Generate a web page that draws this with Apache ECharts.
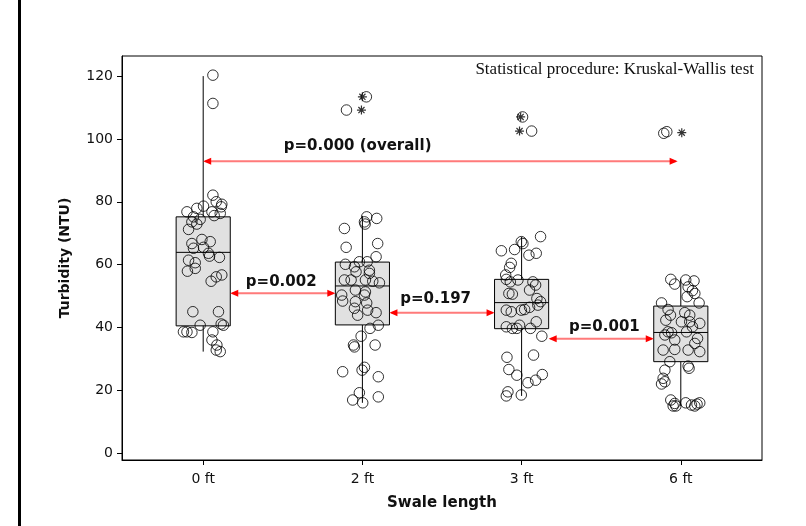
<!DOCTYPE html>
<html>
<head>
<meta charset="utf-8">
<script src="https://cdn.jsdelivr.net/npm/echarts@6/dist/echarts.min.js"></script>
<style>html,body{margin:0;padding:0;background:#fff;}#chart{width:806px;height:526px;}</style>
</head>
<body>
<div id="chart"></div>
<script>
// ---------- DATA ----------
const categories = ['0 ft', '2 ft', '3 ft', '6 ft'];
const yTicks = [0, 20, 40, 60, 80, 100, 120];

// box statistics per category
const whiskerLow  = [32.3, 16.0, 18.2, 15.0];
const q1Values    = [40.5, 40.8, 39.6, 29.1];
const medians     = [63.9, 53.2, 47.9, 38.4];
const q3Values    = [75.2, 60.8, 55.3, 46.8];
const whiskerHigh = [120.0, 75.5, 68.8, 55.3];

// individual observations: [jitter (category units), turbidity]
const points0ft = [[0.061,120.3],[0.061,111.3],[0.061,82.1],[0.117,79.2],[0.082,80.0],[-0.102,76.8],[-0.040,77.9],[0.002,78.6],[-0.061,75.2],[-0.019,74.4],[0.055,76.8],[0.107,76.3],[-0.071,73.6],[-0.040,72.9],[-0.092,71.2],[-0.008,68.0],[-0.071,66.7],[0.044,67.3],[-0.061,65.2],[0.002,65.5],[0.033,63.6],[0.040,62.7],[0.102,62.3],[-0.092,61.4],[-0.050,60.6],[-0.050,58.8],[-0.099,57.9],[0.117,56.7],[0.082,56.1],[0.050,54.7],[-0.065,45.0],[0.096,45.0],[-0.019,40.7],[0.127,40.7],[-0.102,38.6],[-0.071,38.4],[-0.124,38.6],[0.113,41.1],[0.061,38.6],[0.055,36.0],[0.086,34.4],[0.082,32.8],[0.107,32.3],[0.113,78.4],[0.069,75.6]];
const points2ft = [[0.027,75.2],[0.090,74.7],[0.013,73.6],[0.017,72.9],[-0.113,71.5],[0.096,66.7],[-0.102,65.5],[0.086,62.5],[-0.107,60.1],[-0.019,60.9],[0.030,60.9],[-0.050,59.3],[0.044,58.2],[-0.040,57.7],[0.044,57.2],[-0.071,55.1],[-0.113,55.1],[0.019,55.1],[0.065,54.7],[0.107,54.2],[-0.044,51.9],[0.019,51.3],[-0.130,50.3],[0.013,50.3],[-0.124,48.4],[-0.044,48.2],[0.027,47.8],[-0.050,46.1],[0.033,45.5],[0.086,44.7],[-0.030,43.9],[0.100,40.7],[0.048,39.7],[-0.008,37.2],[0.080,34.4],[-0.056,34.4],[-0.050,33.8],[-0.124,25.9],[0.013,27.3],[-0.002,26.4],[0.100,24.3],[-0.019,19.2],[0.100,17.9],[-0.061,16.9],[0.002,16.0]];
const points3ft = [[0.119,68.9],[-0.002,67.3],[0.008,66.7],[-0.127,64.4],[-0.044,64.8],[0.046,63.0],[0.092,63.6],[-0.065,60.4],[-0.075,59.1],[-0.100,56.7],[-0.096,55.3],[-0.071,54.5],[-0.023,55.1],[0.071,54.5],[0.088,53.5],[0.050,51.9],[-0.080,50.8],[-0.058,50.6],[0.096,49.2],[0.119,48.2],[0.102,47.1],[0.050,46.4],[0.019,45.7],[-0.096,45.5],[-0.065,45.0],[-0.002,45.5],[0.092,41.8],[-0.013,40.7],[-0.096,40.2],[-0.058,39.7],[-0.030,39.7],[0.056,39.7],[0.127,37.2],[-0.092,30.5],[0.075,31.2],[-0.080,26.6],[-0.030,24.8],[0.130,25.0],[0.088,23.2],[0.040,22.4],[-0.086,19.5],[-0.096,18.2],[-0.002,18.5]];
const points6ft = [[-0.063,55.3],[0.031,55.1],[0.083,54.8],[-0.038,53.8],[0.046,52.9],[0.073,51.7],[0.088,50.8],[0.040,49.8],[0.115,47.8],[-0.121,47.8],[-0.080,45.7],[-0.065,43.9],[0.025,44.7],[0.056,43.9],[-0.094,42.3],[0.004,41.8],[0.056,41.8],[0.119,41.3],[0.073,40.2],[-0.080,38.6],[-0.058,38.3],[-0.100,37.6],[0.036,38.6],[0.105,36.5],[-0.038,36.0],[0.088,34.9],[-0.111,32.8],[-0.038,33.0],[0.046,32.8],[0.119,32.3],[-0.069,29.1],[0.046,27.7],[0.052,27.0],[-0.100,26.4],[-0.111,23.8],[-0.100,22.7],[-0.121,22.0],[-0.063,16.9],[-0.038,15.8],[-0.031,15.0],[0.031,16.0],[0.067,15.3],[0.102,15.6],[0.119,16.0],[0.088,15.0],[-0.048,15.0]];
const pointGroups = [points0ft, points2ft, points3ft, points6ft];

// outliers drawn as circles (observations) and asterisks (outlier marks)
const outlierCircles = [[], [[-0.100,109.2],[0.025,113.4]], [[0.006,107.0],[0.063,102.5]], [[-0.107,101.8],[-0.088,102.3]]];
const outlierStars   = [[], [[-0.006,109.2],[0.000,113.4]], [[-0.006,107.0],[-0.013,102.5]], [[0.006,102.0]]];

// pairwise comparisons
const compLabels = ['p=0.002', 'p=0.197', 'p=0.001', 'p=0.000 (overall)'];
const compFrom   = [0.17, 1.17, 2.17, 0.0];
const compTo     = [0.83, 1.83, 2.83, 2.98];
const compY      = [50.9, 44.7, 36.4, 92.9];
const compTextX  = [0.49, 1.46, 2.52, 0.97];
const compTextY  = [54.5, 48.9, 40.2, 97.7];

const noteText = 'Statistical procedure: Kruskal-Wallis test';

// ---------- BUILD ----------
const boxData = categories.map((c, i) => [i, whiskerLow[i], q1Values[i], medians[i], q3Values[i], whiskerHigh[i]]);
const scatterData = [];
pointGroups.forEach((g, i) => g.forEach(p => scatterData.push([i + p[0], p[1]])));
outlierCircles.forEach((g, i) => g.forEach(p => scatterData.push([i + p[0], p[1]])));
const starData = [];
outlierStars.forEach((g, i) => g.forEach(p => starData.push([i + p[0], p[1]])));
const compData = compLabels.map((l, i) => ({ name: l, value: [compFrom[i], compTo[i], compY[i], compTextX[i], compTextY[i]] }));

const BOX_HW = 0.17;
const FONT = 'DejaVu Sans';

const chart = echarts.init(document.getElementById('chart'), null, { renderer: 'canvas' });
chart.setOption({
  animation: false,
  backgroundColor: '#fff',
  grid: { left: 122, top: 56, right: 44, bottom: 66, show: true, borderColor: '#000', borderWidth: 1, backgroundColor: 'transparent' },
  xAxis: {
    type: 'value', min: -0.51, max: 3.51,
    name: 'Swale length', nameLocation: 'middle', nameGap: 36,
    nameTextStyle: { fontFamily: FONT, fontWeight: 'bold', fontSize: 15, color: '#111' },
    axisLine: { show: true, onZero: false, lineStyle: { color: '#000', width: 1 } },
    axisTick: { show: true, length: 5, lineStyle: { color: '#000' }, customValues: [0, 1, 2, 3] },
    axisLabel: { customValues: [0, 1, 2, 3], formatter: v => categories[Math.round(v)], fontFamily: FONT, fontSize: 14, color: '#111', margin: 12 },
    splitLine: { show: false }
  },
  yAxis: {
    type: 'value', min: -2.2, max: 126.4,
    name: 'Turbidity (NTU)', nameLocation: 'middle', nameGap: 50,
    nameTextStyle: { fontFamily: FONT, fontWeight: 'bold', fontSize: 14, color: '#111' },
    axisLine: { show: true, onZero: false, lineStyle: { color: '#000', width: 1 } },
    axisTick: { show: true, length: 5, lineStyle: { color: '#000' }, customValues: yTicks },
    axisLabel: { customValues: yTicks, fontFamily: FONT, fontSize: 14, color: '#111', margin: 9 },
    splitLine: { show: false }
  },
  graphic: [
    { type: 'rect', left: 18, top: 0, shape: { width: 3, height: 526 }, style: { fill: '#000' }, silent: true },
    { type: 'text', right: 52, top: 61, style: { text: noteText, font: '17px "Liberation Serif", "Times New Roman", serif', fill: '#111' }, silent: true }
  ],
  series: [
    {
      type: 'custom', silent: true, z: 2,
      data: boxData,
      renderItem: function (params, api) {
        const i = api.value(0);
        const pHi = api.coord([i, api.value(5)]);
        const pLo = api.coord([i, api.value(1)]);
        const tl = api.coord([i - BOX_HW, api.value(4)]);
        const br = api.coord([i + BOX_HW, api.value(2)]);
        const mL = api.coord([i - BOX_HW, api.value(3)]);
        const mR = api.coord([i + BOX_HW, api.value(3)]);
        return {
          type: 'group', children: [
            { type: 'line', shape: { x1: pHi[0], y1: pHi[1], x2: pLo[0], y2: pLo[1] }, style: { stroke: '#000', lineWidth: 1 } },
            { type: 'rect', shape: { x: tl[0], y: tl[1], width: br[0] - tl[0], height: br[1] - tl[1] }, style: { fill: '#e1e1e1', stroke: '#000', lineWidth: 1 } },
            { type: 'line', shape: { x1: mL[0], y1: mL[1], x2: mR[0], y2: mR[1] }, style: { stroke: '#000', lineWidth: 1 } }
          ]
        };
      }
    },
    {
      type: 'scatter', silent: true, z: 3,
      data: scatterData, symbol: 'circle', symbolSize: 10.5,
      itemStyle: { color: 'rgba(0,0,0,0)', borderColor: '#000', borderWidth: 1 }
    },
    {
      type: 'scatter', silent: true, z: 3,
      data: starData, symbol: 'path://M5,0L5,10M0,5L10,5M1.6,1.6L8.4,8.4M1.6,8.4L8.4,1.6', symbolSize: 9,
      itemStyle: { color: 'rgba(0,0,0,0)', borderColor: '#000', borderWidth: 1.2 }
    },
    {
      type: 'custom', silent: true, z: 4,
      data: compData,
      renderItem: function (params, api) {
        const y = api.value(2);
        const a = api.coord([api.value(0), y]);
        const b = api.coord([api.value(1), y]);
        const t = api.coord([api.value(3), api.value(4)]);
        const L = 8, H = 3.5;
        return {
          type: 'group', children: [
            { type: 'line', shape: { x1: a[0] + 2, y1: a[1], x2: b[0] - 2, y2: b[1] }, style: { stroke: '#ff7a7a', lineWidth: 2 } },
            { type: 'polygon', shape: { points: [[a[0], a[1]], [a[0] + L, a[1] - H], [a[0] + L, a[1] + H]] }, style: { fill: '#ff0000' } },
            { type: 'polygon', shape: { points: [[b[0], b[1]], [b[0] - L, b[1] - H], [b[0] - L, b[1] + H]] }, style: { fill: '#ff0000' } },
            { type: 'text', x: t[0], y: t[1], style: { text: compLabels[params.dataIndex], font: 'bold 15px "DejaVu Sans"', fill: '#111', align: 'center', verticalAlign: 'middle' } }
          ]
        };
      }
    }
  ]
});
</script>
</body>
</html>
